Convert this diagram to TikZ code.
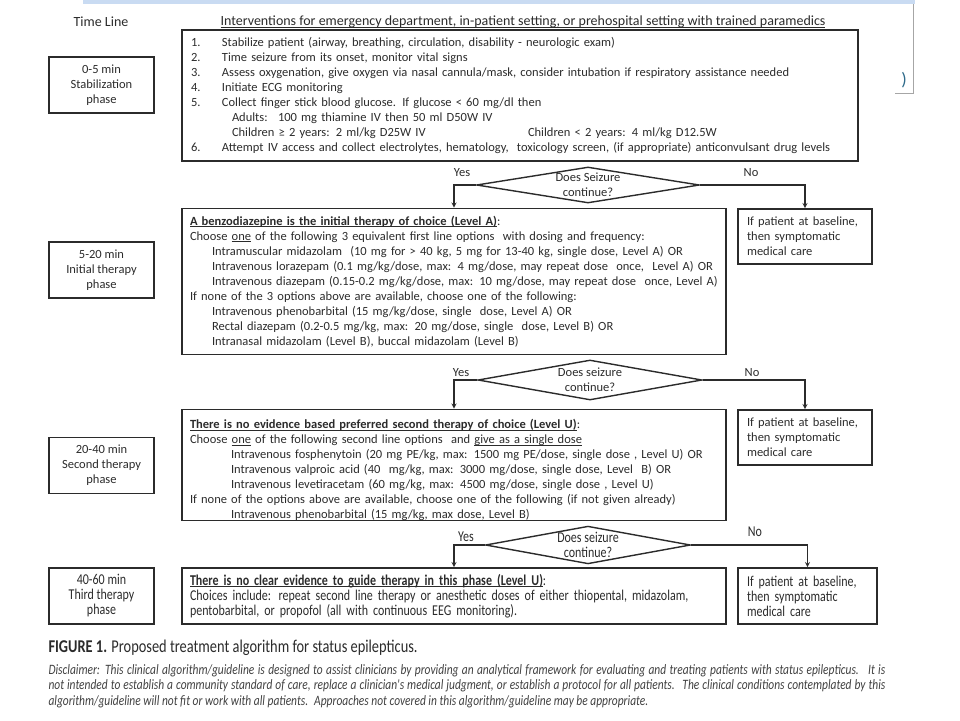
\documentclass[tikz,border=0pt]{standalone}
\usepackage{fontspec}
\setmainfont{Carlito}
\newfontfamily\condfont[FakeStretch=0.8]{Carlito}
\usetikzlibrary{positioning,shapes.geometric}

\definecolor{inkgray}{HTML}{2B2B2B}
\definecolor{barblue}{HTML}{C9DBF2}
\definecolor{parenteal}{HTML}{2E6A8A}

\newcommand{\boxfont}{\fontsize{12.5}{15}\selectfont}
\newcommand{\headfont}{\fontsize{14}{15}\selectfont}
\newcommand{\condboxfont}{\condfont\fontsize{15}{15}\selectfont}
\newcommand{\captionfont}{\condfont\fontsize{18}{18}\selectfont}
\newcommand{\disclaimfont}{\condfont\itshape\fontsize{14.3}{15.5}\selectfont}
% underline close under the baseline
\newcommand{\undl}[1]{\setbox0=\hbox{#1}\rlap{\rule[-1.8pt]{\wd0}{0.6pt}}\box0\relax}

\begin{document}
\begin{tikzpicture}[x=1pt,y=-1pt,>=stealth,
	every node/.style={text=inkgray,font=\boxfont},
	phase/.style={draw=inkgray,line width=1.6pt,minimum width=105,
		minimum height=56,align=center,inner sep=0},
	mainbox/.style={draw=inkgray,line width=1.6pt,align=left,
		text width=528,inner xsep=8,inner ysep=0},
	sidebox/.style={draw=inkgray,line width=1.6pt,align=left,
		text width=116,inner xsep=9,inner ysep=0,minimum height=55},
	decision/.style={draw=inkgray,diamond,aspect=5.8,line width=1.4pt,
		inner sep=0,align=center},
	flow/.style={->,draw=inkgray,line width=1.3pt}]
	\useasboundingbox (0,0) rectangle (960,720);

	% slide remains at the top
	\fill[barblue] (83,0) rectangle (915,3.5);
	\draw[gray!70,line width=0.8pt] (913,4) -- (913,93) -- (895,93);
	\node[text=parenteal,font=\fontsize{18}{18}\selectfont] (paren) at (904,80) {)};

	% create the nodes
	\node[font=\headfont] (timeline) at (101,22) {Time Line};
	\node[font=\headfont] (interventions) at (523,22) {\undl{Interventions
		for emergency department, in-patient setting, or prehospital setting
		with trained paramedics}};

	\node[phase] (stabphase) at (101.5,85) {0-5 min\\Stabilization\\phase};
	\node[mainbox,text width=658,inner xsep=9,minimum height=131] (stabilize)
		at (520,95.5) {\makebox[31pt][l]{1.}Stabilize patient (airway, breathing,
		circulation, disability - neurologic exam)\\
		\makebox[31pt][l]{2.}Time seizure from its onset, monitor vital signs\\
		\makebox[31pt][l]{3.}Assess oxygenation, give oxygen via nasal
		cannula/mask, consider intubation if respiratory assistance needed\\
		\makebox[31pt][l]{4.}Initiate ECG monitoring\\
		\makebox[31pt][l]{5.}Collect finger stick blood glucose. If glucose
		< 60 mg/dl then\\
		\hspace*{41pt}Adults:~ 100 mg thiamine IV then 50 ml D50W IV\\
		\hspace*{41pt}\makebox[296pt][l]{Children ≥ 2 years: 2 ml/kg D25W IV}Children
		< 2 years: 4 ml/kg D12.5W\\
		\makebox[31pt][l]{6.}Attempt IV access and collect electrolytes,
		hematology,~ toxicology screen, (if appropriate) anticonvulsant drug levels};

	\node[decision,minimum width=223,minimum height=36] (check1) at (588,185)
		{Does Seizure\\continue?};
	\node (yes1) at (462,173) {Yes};
	\node (no1) at (751,173) {No};

	\node[phase] (initialphase) at (101.5,270) {5-20 min\\Initial therapy\\phase};
	\node[mainbox,minimum height=146] (initial) at (454,281.5)
		{\undl{\textbf{A benzodiazepine is the initial therapy of choice
		(Level A)}}:\\
		Choose \undl{one} of the following 3 equivalent first line options~
		with dosing and frequency:\\
		\hspace*{22pt}Intramuscular midazolam~ (10 mg for > 40 kg, 5 mg for
		13-40 kg, single dose, Level A) OR\\
		\hspace*{22pt}Intravenous lorazepam (0.1 mg/kg/dose, max: 4 mg/dose, may
		repeat dose~ once,~ Level A) OR\\
		\hspace*{22pt}Intravenous diazepam (0.15-0.2 mg/kg/dose, max: 10 mg/dose,
		may repeat dose~ once, Level A)\\
		If none of the 3 options above are available, choose one of the
		following:\\
		\hspace*{22pt}Intravenous phenobarbital (15 mg/kg/dose, single~ dose,
		Level A) OR\\
		\hspace*{22pt}Rectal diazepam (0.2-0.5 mg/kg, max: 20 mg/dose, single~
		dose, Level B) OR\\
		\hspace*{22pt}Intranasal midazolam (Level B), buccal midazolam (Level B)};
	\node[sidebox] (baseline1) at (805,236.5)
		{If patient at baseline,\\then symptomatic\\medical care};

	\node[decision,minimum width=224,minimum height=40] (check2) at (590,380)
		{Does seizure\\continue?};
	\node (yes2) at (461,373) {Yes};
	\node (no2) at (752,373) {No};

	\node[phase] (secondphase) at (101.5,465.5) {20-40 min\\Second therapy\\phase};
	\node[mainbox,minimum height=110] (second) at (454,465)
		{\rule{0pt}{19pt}\undl{\textbf{There is no evidence based preferred second
		therapy of choice (Level U)}}:\\
		Choose \undl{one} of the following second line options~ and
		\undl{give as a single dose}\\
		\hspace*{41pt}Intravenous fosphenytoin (20 mg PE/kg, max: 1500 mg
		PE/dose, single dose , Level U) OR\\
		\hspace*{41pt}Intravenous valproic acid (40~ mg/kg, max: 3000 mg/dose,
		single dose, Level~ B) OR\\
		\hspace*{41pt}Intravenous levetiracetam (60 mg/kg, max: 4500 mg/dose,
		single dose , Level U)\\
		If none of the options above are available, choose one of the following
		(if not given already)\\
		\hspace*{41pt}Intravenous phenobarbital (15 mg/kg, max dose, Level B)};
	\node[sidebox] (baseline2) at (805,437.5)
		{If patient at baseline,\\then symptomatic\\medical care};

	\node[decision,aspect=5,font=\condboxfont,minimum width=205,minimum height=37]
		(check3) at (588,545) {Does seizure\\continue?};
	\node[font=\condboxfont] (yes3) at (466,537) {Yes};
	\node[font=\condboxfont] (no3) at (755,532) {No};

	\node[phase,font=\condboxfont] (thirdphase) at (101.5,596)
		{40-60 min\\Third therapy\\phase};
	\node[mainbox,font=\condboxfont,minimum height=56] (third) at (454,596)
		{\undl{\textbf{There is no clear evidence to guide therapy in this
		phase (Level U)}}:\\
		Choices include: repeat second line therapy or anesthetic doses of either
		thiopental, midazolam,\\
		pentobarbital, or propofol (all with continuous EEG monitoring).};
	\node[sidebox,font=\condboxfont,text width=121,minimum height=56]
		(baseline3) at (807.5,596)
		{If patient at baseline,\\then symptomatic\\medical care};

	\node[anchor=west,font=\captionfont] (figcaption) at (45,648)
		{\textbf{FIGURE 1.} Proposed treatment algorithm for status epilepticus.};
	\node[anchor=west,font=\disclaimfont,align=left,text=inkgray!90]
		(disclaimer) at (45,686)
		{\makebox[837pt][s]{Disclaimer: This clinical algorithm/guideline is
		designed to assist clinicians by providing an analytical framework for
		evaluating and treating patients with status epilepticus.~ It is}\\
		\makebox[837pt][s]{not intended to establish a community standard of
		care, replace a clinician's medical judgment, or establish a protocol
		for all patients.~ The clinical conditions contemplated by this}\\
		algorithm/guideline will not fit or work with all patients.~ Approaches
		not covered in this algorithm/guideline may be appropriate.};

	% connect the nodes
	\draw[flow] (check1.west) -| (initial.north);
	\draw[flow] (check1.east) -| (baseline1.north);
	\draw[flow] (check2.west) -| (second.north);
	\draw[flow] (check2.east) -| (baseline2.north);
	\draw[flow] (check3.west) -| (third.north);
	\draw[flow] (check3.east) -| (baseline3.north);

\end{tikzpicture}
\end{document}
